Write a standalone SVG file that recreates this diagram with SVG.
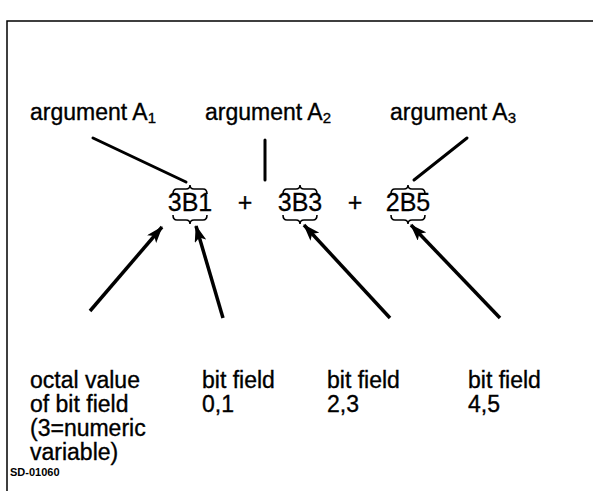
<svg xmlns="http://www.w3.org/2000/svg" width="593" height="491" viewBox="0 0 593 491">
<defs>
<marker id="ah" markerWidth="17" markerHeight="12" refX="16" refY="6" orient="auto" markerUnits="userSpaceOnUse">
<path d="M0,0 L17,6 L0,12 L4,6 Z" fill="#000"/>
</marker>
</defs>
<style>
text{font-family:"Liberation Sans",Arial,sans-serif;fill:#000}
.lbl{font-size:23px;stroke:#000;stroke-width:0.35}
.num{font-size:25px;stroke:#000;stroke-width:0.3}
.sub{font-size:15px}
.ln{stroke:#000;stroke-width:3;fill:none;stroke-linecap:round}
.arr{stroke:#000;stroke-width:3.5;fill:none;marker-end:url(#ah)}
.br{stroke:#000;stroke-width:1.6;fill:none}
</style>
<rect width="593" height="491" fill="#fff"/>
<g id="frame">
<path d="M7,491 V21 H593" stroke="#000" stroke-width="1.5" fill="none"/>
</g>
<g id="argA1"><text class="lbl" x="30" y="120">argument A<tspan class="sub" dy="3">1</tspan></text></g>
<g id="argA2"><text class="lbl" x="205" y="120">argument A<tspan class="sub" dy="3">2</tspan></text></g>
<g id="argA3"><text class="lbl" x="390" y="120">argument A<tspan class="sub" dy="3">3</tspan></text></g>
<g id="n3B1">
<text class="num" x="190" y="211" text-anchor="middle">3B1</text>
<path class="br" d="M173,194 Q173,189 177,189 L186,189 Q190,189 190,185 Q190,189 194,189 L203,189 Q207,189 207,194"/>
<path class="br" d="M173,215 Q173,220 177,220 L186,220 Q190,220 190,224 Q190,220 194,220 L203,220 Q207,220 207,215"/>
</g>
<g id="plus1"><text class="num" x="245" y="211" text-anchor="middle">+</text></g>
<g id="n3B3">
<text class="num" x="300" y="211" text-anchor="middle">3B3</text>
<path class="br" d="M283,194 Q283,189 287,189 L296,189 Q300,189 300,185 Q300,189 304,189 L313,189 Q317,189 317,194"/>
<path class="br" d="M283,215 Q283,220 287,220 L296,220 Q300,220 300,224 Q300,220 304,220 L313,220 Q317,220 317,215"/>
</g>
<g id="plus2"><text class="num" x="355" y="211" text-anchor="middle">+</text></g>
<g id="n2B5">
<text class="num" x="408" y="211" text-anchor="middle">2B5</text>
<path class="br" d="M391,194 Q391,189 395,189 L404,189 Q408,189 408,185 Q408,189 412,189 L421,189 Q425,189 425,194"/>
<path class="br" d="M391,215 Q391,220 395,220 L404,220 Q408,220 408,224 Q408,220 412,220 L421,220 Q425,220 425,215"/>
</g>
<g id="octal"><text class="lbl" x="30" y="388">octal value<tspan x="30" dy="24">of bit field</tspan><tspan x="30" dy="24">(3=numeric</tspan><tspan x="30" dy="24">variable)</tspan></text></g>
<g id="bf01"><text class="lbl" x="202" y="388">bit field<tspan x="202" dy="24">0,1</tspan></text></g>
<g id="bf23"><text class="lbl" x="327" y="388">bit field<tspan x="327" dy="24">2,3</tspan></text></g>
<g id="bf45"><text class="lbl" x="468" y="388">bit field<tspan x="468" dy="24">4,5</tspan></text></g>
<g id="code"><text x="10" y="476" style="font-size:11px;font-weight:bold">SD-01060</text></g>
<g id="connectors">
<line class="ln" x1="93" y1="138" x2="186" y2="182"/>
<line class="ln" x1="265" y1="140" x2="265" y2="180"/>
<line class="ln" x1="467" y1="138" x2="414" y2="180"/>
<line class="arr" x1="90" y1="311" x2="162" y2="227"/>
<line class="arr" x1="223" y1="318" x2="196" y2="226"/>
<line class="arr" x1="390" y1="318" x2="304" y2="225"/>
<line class="arr" x1="500" y1="318" x2="411" y2="225"/>
</g>
</svg>
